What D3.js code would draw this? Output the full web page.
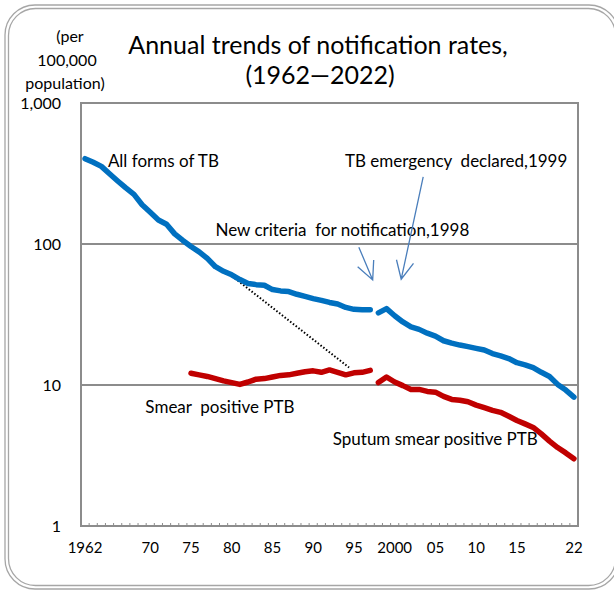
<!DOCTYPE html>
<html><head><meta charset="utf-8">
<script src="https://cdn.jsdelivr.net/npm/d3@7"></script>
<style>html,body{margin:0;padding:0;background:#fff;} svg{display:block;font-family:Lato,"Open Sans",sans-serif;}</style>
</head><body>
<svg id="c" width="614" height="592"></svg>
<script>
// ---- data ----
const allYearsOld = [1962,1963,1964,1965,1966,1967,1968,1969,1970,1971,1972,1973,1974,1975,1976,1977,1978,1979,1980,1981,1982,1983,1984,1985,1986,1987,1988,1989,1990,1991,1992,1993,1994,1995,1996,1997];
const allFormsOld = [403,380,355,315,280,250,225,190,168,148,138,118,106,96,88,79,69,64,60.5,56,52.5,51.5,51,47.5,46.5,46,44,42.5,41,39.8,38.5,37.5,35.5,34.4,34.2,34.2];
const allYearsNew = [1998,1999,2000,2001,2002,2003,2004,2005,2006,2007,2008,2009,2010,2011,2012,2013,2014,2015,2016,2017,2018,2019,2020,2021,2022];
const allFormsNew = [32.5,34.8,31,28,25.8,24.8,23.3,22.2,20.6,19.8,19.2,18.7,18.2,17.7,16.7,16.1,15.4,14.4,13.9,13.3,12.3,11.5,10.1,9.2,8.2];
const smearYearsOld = [1975,1976,1977,1978,1979,1980,1981,1982,1983,1984,1985,1986,1987,1988,1989,1990,1991,1992,1993,1994,1995,1996,1997];
const smearOld = [12.1,11.8,11.5,11.1,10.7,10.4,10.1,10.5,11.0,11.1,11.4,11.7,11.8,12.1,12.4,12.6,12.3,12.8,12.3,11.8,12.2,12.3,12.7];
const smearYearsNew = allYearsNew;
const smearNew = [10.4,11.4,10.5,9.9,9.3,9.3,9.0,8.9,8.3,7.9,7.8,7.6,7.2,6.9,6.6,6.4,6.0,5.6,5.3,5.0,4.5,4.0,3.6,3.3,3.0];
const dottedYears = [1980.4, 1994.4];
const dottedValues = [57, 13.3];
const xTickYears = [1962,1970,1975,1980,1985,1990,1995,2000,2005,2010,2015,2022];
const xTickLabels = ["1962","70","75","80","85","90","95","2000","05","10","15","22"];
const yTicks = [1,10,100,1000];
const yTickLabels = ["1","10","100","1,000"];

// ---- layout ----
const svg = d3.select("#c");
const L=81, R=578, T=103, B=526;
const x = d3.scaleLinear().domain([1961.5, 2022.5]).range([L, R]);
const y = d3.scaleLog().domain([1, 1000]).range([B, T]);

// outer double rounded frame
svg.append("rect").attr("x",5).attr("y",5).attr("width",614).attr("height",584).attr("rx",30)
  .attr("fill","none").attr("stroke","#a6a6a6").attr("stroke-width",1.3);
svg.append("rect").attr("x",8.5).attr("y",8.5).attr("width",607).attr("height",577).attr("rx",27)
  .attr("fill","none").attr("stroke","#a6a6a6").attr("stroke-width",1.3);

// gridlines
svg.append("g").selectAll("line").data([10,100]).join("line")
  .attr("x1",L).attr("x2",R).attr("y1",d=>y(d)).attr("y2",d=>y(d))
  .attr("stroke","#8c8c8c").attr("stroke-width",2);

// plot frame
svg.append("rect").attr("x",L).attr("y",T).attr("width",R-L).attr("height",B-T)
  .attr("fill","none").attr("stroke","#8c8c8c").attr("stroke-width",2);

// x axis minor ticks (category boundaries)
const bounds = d3.range(1961.5, 2023, 1);
svg.append("g").selectAll("line").data(bounds).join("line")
  .attr("x1",d=>x(d)).attr("x2",d=>x(d)).attr("y1",B).attr("y2",B-3)
  .attr("stroke","#8c8c8c").attr("stroke-width",1);

// x tick labels
svg.append("g").selectAll("text").data(xTickYears).join("text")
  .attr("x",d=>x(d)).attr("y",553).attr("text-anchor","middle")
  .attr("font-size",15).attr("fill","#000").text((d,i)=>xTickLabels[i]);

// y tick labels
svg.append("g").selectAll("text").data(yTicks).join("text")
  .attr("x",61).attr("y",d=>y(d)+6).attr("text-anchor","end")
  .attr("font-size",16).attr("fill","#000").text((d,i)=>yTickLabels[i]);

// unit label
const unit = svg.append("text").attr("text-anchor","middle").attr("font-size",16).attr("fill","#000");
unit.append("tspan").attr("x",70).attr("y",42).text("(per");
unit.append("tspan").attr("x",67).attr("y",66).text("100,000");
unit.append("tspan").attr("x",65).attr("y",89).text("population)");

// title
svg.append("text").attr("x",318).attr("y",54).attr("text-anchor","middle").attr("font-size",25)
  .attr("fill","#000").text("Annual trends of notification rates,");
svg.append("text").attr("x",320).attr("y",84).attr("text-anchor","middle").attr("font-size",25)
  .attr("fill","#000").text("(1962\u20142022)");

// lines
const line = d3.line().x(d=>x(d[0])).y(d=>y(d[1]));
function drawSeries(yrs, vals, color){
  svg.append("path").datum(yrs.map((yr,i)=>[yr,vals[i]]))
    .attr("d",line).attr("fill","none").attr("stroke",color).attr("stroke-width",5.5)
    .attr("stroke-linejoin","round").attr("stroke-linecap","round");
}
// dotted
svg.append("path").datum(dottedYears.map((yr,i)=>[yr,dottedValues[i]]))
  .attr("d",line).attr("fill","none").attr("stroke","#000").attr("stroke-width",2)
  .attr("stroke-dasharray","1.5,2");
drawSeries(allYearsOld, allFormsOld, "#0070C0");
drawSeries(allYearsNew, allFormsNew, "#0070C0");
drawSeries(smearYearsOld, smearOld, "#C00000");
drawSeries(smearYearsNew, smearNew, "#C00000");

// annotations
const ann = [
  {t:"All forms of TB", yr:1964.8, v:352},
  {t:"TB emergency  declared,1999", yr:1993.9, v:352},
  {t:"New criteria  for notification,1998", yr:1978, v:114},
  {t:"Smear  positive PTB", yr:1969.4, v:6.33},
  {t:"Sputum smear positive PTB", yr:1992.4, v:3.75}
];
svg.append("g").selectAll("text").data(ann).join("text")
  .attr("x",d=>x(d.yr)).attr("y",d=>y(d.v)).attr("font-size",17).attr("fill","#000")
  .style("white-space","pre").attr("xml:space","preserve").text(d=>d.t);

// arrows
const arrows = [
  {from:[1995.6,95], to:[1997.3,55.6]},
  {from:[2003.5,299], to:[2000.8,56.3]}
];
arrows.forEach(a=>{
  const x1=x(a.from[0]), y1=y(a.from[1]), x2=x(a.to[0]), y2=y(a.to[1]);
  const ang=Math.atan2(y2-y1,x2-x1), len=20, spread=0.45;
  svg.append("path").attr("d",
    `M${x1},${y1}L${x2},${y2}M${x2-len*Math.cos(ang-spread)},${y2-len*Math.sin(ang-spread)}L${x2},${y2}L${x2-len*Math.cos(ang+spread)},${y2-len*Math.sin(ang+spread)}`)
    .attr("fill","none").attr("stroke","#4a7ebb").attr("stroke-width",1.3);
});
</script>
</body></html>
